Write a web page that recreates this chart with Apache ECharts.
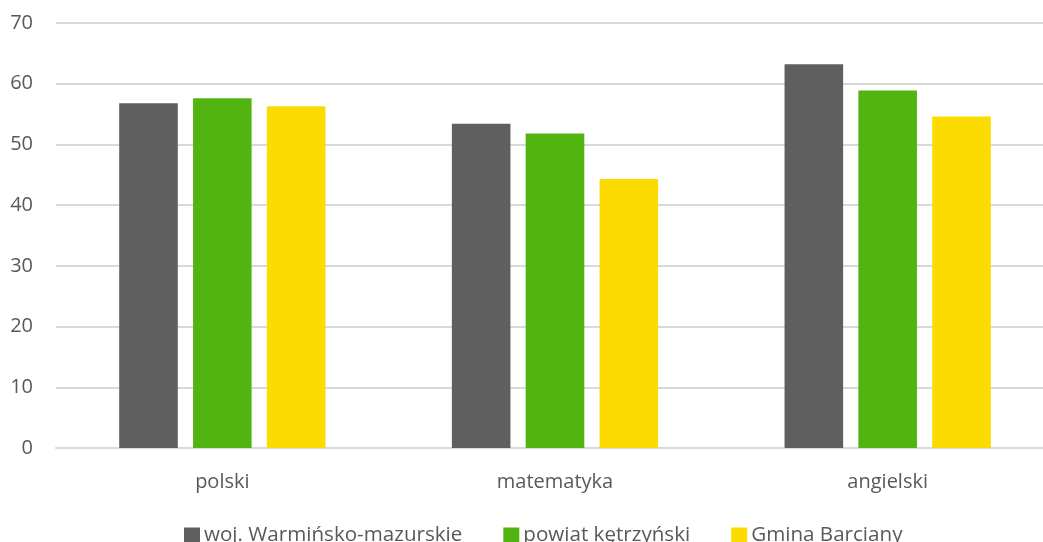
<!DOCTYPE html>
<html>
<head>
    <meta charset="UTF-8">
    <title>Wyniki egzaminu</title>
    <style>
        html, body { margin: 0; padding: 0; background: #fff; overflow: hidden; }
        #chart { width: 1043px; height: 542px; }
    </style>
</head>
<body>
    <div id="chart"></div>
    <script src="https://cdn.jsdelivr.net/npm/echarts@6/dist/echarts.min.js"></script>
    <script>
        var categories = ['polski', 'matematyka', 'angielski'];
        var wojValues = [56.8, 53.4, 63.2];
        var powiatValues = [57.6, 51.8, 58.9];
        var gminaValues = [56.3, 44.3, 54.6];
        var seriesNames = ['woj. Warmińsko-mazurskie', 'powiat kętrzyński', 'Gmina Barciany'];

        var textColor = '#595959';
        var font = 'Open Sans';

        var option = {
            animation: false,
            color: ['#5f5f5f', '#51b410', '#fcdb00'],
            grid: {
                left: 56,
                right: -11,
                top: 23,
                bottom: 94,
                outerBoundsMode: 'none'
            },
            legend: {
                data: seriesNames,
                top: 520,
                left: 179,
                itemWidth: 16,
                itemHeight: 16,
                itemGap: 41,
                icon: 'rect',
                textStyle: { color: textColor, fontSize: 20.6, fontFamily: font, padding: [0, 0, 0, -1] }
            },
            xAxis: {
                type: 'category',
                data: categories,
                axisLine: { lineStyle: { color: '#d9d9d9', width: 2 } },
                axisTick: { show: false },
                axisLabel: { color: textColor, fontSize: 20, fontFamily: font, margin: 24 }
            },
            yAxis: {
                type: 'value',
                min: 0,
                max: 70,
                interval: 10,
                axisLine: { show: false },
                axisTick: { show: false },
                splitLine: { lineStyle: { color: '#d9d9d9', width: 2 } },
                axisLabel: { color: textColor, fontSize: 20, fontFamily: font, margin: 23 }
            },
            series: [
                { name: seriesNames[0], type: 'bar', data: wojValues, barGap: '26%', barCategoryGap: '38%' },
                { name: seriesNames[1], type: 'bar', data: powiatValues },
                { name: seriesNames[2], type: 'bar', data: gminaValues }
            ]
        };

        var myChart = echarts.init(document.getElementById('chart'));
        myChart.setOption(option);
    </script>
</body>
</html>
